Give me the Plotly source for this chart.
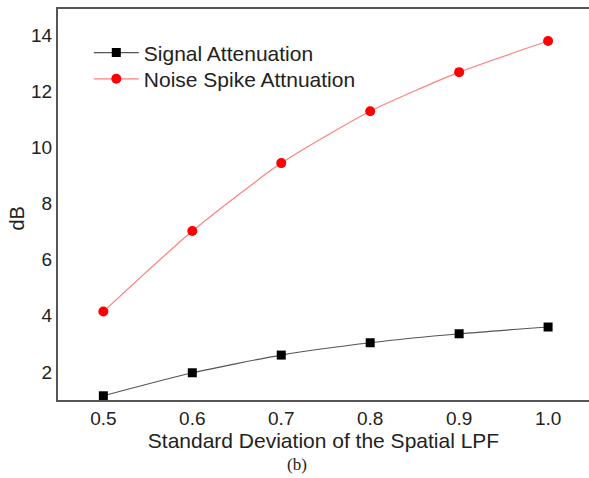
import plotly.graph_objects as go

sigma = [0.5, 0.6, 0.7, 0.8, 0.9, 1.0]
signal_att = [1.15, 1.97, 2.60, 3.04, 3.36, 3.60]
noise_att = [4.15, 7.02, 9.44, 11.29, 12.68, 13.79]
x_ticks = [0.5, 0.6, 0.7, 0.8, 0.9, 1.0]
x_tick_labels = ["0.5", "0.6", "0.7", "0.8", "0.9", "1.0"]
y_ticks = [2, 4, 6, 8, 10, 12, 14]

fig = go.Figure()
fig.add_trace(go.Scatter(
    x=sigma, y=signal_att, mode="lines+markers", name="Signal Attenuation",
    line=dict(color="#555555", width=1.2, shape="spline", smoothing=0.6),
    marker=dict(symbol="square", size=9, color="black"), legend="legend",
))
fig.add_trace(go.Scatter(
    x=sigma, y=noise_att, mode="lines+markers", name="Noise Spike Attnuation",
    line=dict(color="#ff8080", width=1.2, shape="spline", smoothing=0.6),
    marker=dict(symbol="circle", size=10, color="#ff0000"), legend="legend2",
))

font = "Liberation Sans, Arial, sans-serif"
txt = "#222222"
leg_common = dict(xanchor="left", yanchor="top", font=dict(size=21, family=font, color=txt),
                  bgcolor="rgba(0,0,0,0)", itemwidth=45)
fig.update_layout(
    width=589, height=478,
    margin=dict(l=58, r=0, t=9, b=78, autoexpand=False),
    paper_bgcolor="white", plot_bgcolor="white",
    font=dict(family=font, color=txt),
    showlegend=True,
    legend=dict(x=0.058, y=0.94, **leg_common),
    legend2=dict(x=0.058, y=0.873, **leg_common),
    xaxis=dict(range=[0.449, 1.046], tickvals=x_ticks, ticktext=x_tick_labels,
               showgrid=False, zeroline=False, showline=True, mirror=True,
               linecolor="#555555", linewidth=2, ticks="",
               tickfont=dict(size=19, family=font, color=txt),
               title=dict(text="Standard Deviation of the Spatial LPF", standoff=4,
                          font=dict(size=21, family=font, color=txt))),
    yaxis=dict(range=[1.0, 14.93], tickvals=y_ticks,
               showgrid=False, zeroline=False, showline=True, mirror=False,
               linecolor="#555555", linewidth=2, ticks="",
               tickfont=dict(size=19, family=font, color=txt)),
)
fig.add_annotation(text="dB", xref="paper", yref="paper", x=(16.5-58)/531, y=(400-219)/391,
                   showarrow=False, xanchor="center", yanchor="middle", textangle=-90,
                   font=dict(size=20, family=font, color=txt))
fig.add_annotation(text="(b)", xref="paper", yref="paper", x=(297-58)/531, y=-0.165,
                   showarrow=False, xanchor="center", yanchor="middle",
                   font=dict(size=17, family="Liberation Serif, Times New Roman, serif", color=txt))
fig.write_html("out.html", config={"displayModeBar": False},
               post_script="document.body.style.margin='0';")
